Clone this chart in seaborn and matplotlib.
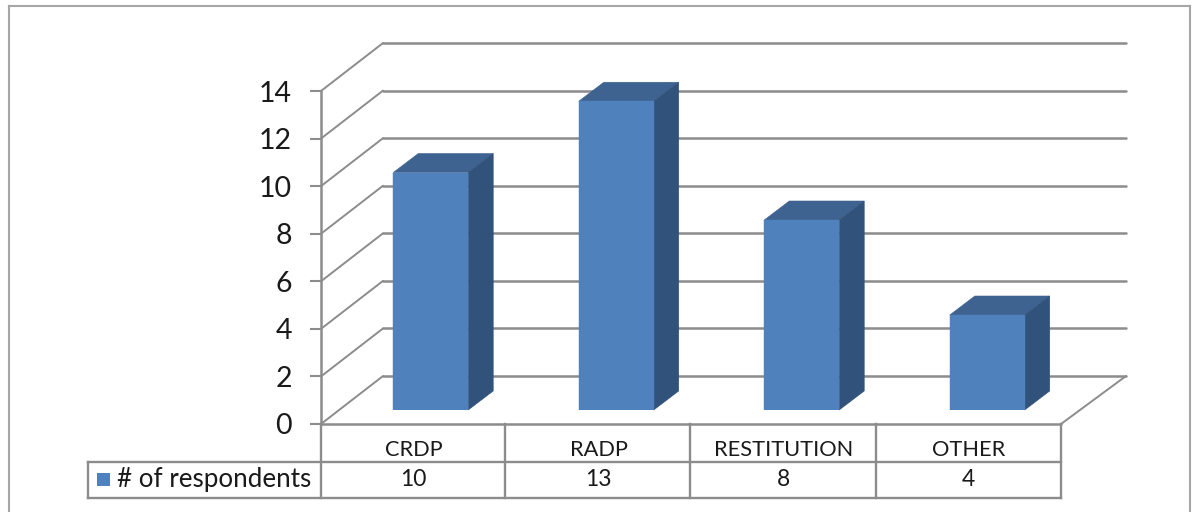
import matplotlib
matplotlib.use("Agg")
import matplotlib.pyplot as plt
import pandas as pd
import seaborn as sns
from matplotlib.lines import Line2D
from matplotlib.patches import Rectangle
from matplotlib.transforms import blended_transform_factory

categories = ["CRDP", "RADP", "RESTITUTION", "OTHER"]
respondents = [10, 13, 8, 4]
y_ticks = [0, 2, 4, 6, 8, 10, 12, 14]
series_name = "# of respondents"

W, H = 1198, 512
FRONT = "#4F81BD"
TOP = "#3E6391"
SIDE = "#31527A"
LINE = "#8C8C8C"
BORDER = "#A6A6A6"
TEXT = "#1A1A1A"

sns.set_theme(style="white")
plt.rcParams["font.family"] = ["Lato", "DejaVu Sans"]

fig = plt.figure(figsize=(W / 100, H / 100), dpi=100, facecolor="white")


def fx(px):
    return px / W


def fy(py):
    return 1 - py / H


def rule(x0, y0, x1, y1, color=LINE, lw=1.7):
    fig.add_artist(Line2D([fx(x0), fx(x1)], [fy(y0), fy(y1)], color=color, lw=lw,
                          solid_capstyle="projecting"))


# Outer chart border, open at the bottom edge
rule(9, 6, 1190, 6, BORDER, 1.5)
rule(9, 6, 9, 512, BORDER, 1.5)
rule(1190, 6, 1190, 512, BORDER, 1.5)

# Front plane of the 3D frame carries the value scale
frame = fig.add_axes([fx(321), fy(424), fx(740), 333 / H])
frame.set_xlim(0, len(categories))
frame.set_ylim(0, 14)
frame.patch.set_alpha(0)
for name, spine in frame.spines.items():
    spine.set_visible(name == "left")
frame.spines["left"].set_color(LINE)
frame.spines["left"].set_linewidth(1.8)
frame.set_xticks([])
frame.set_yticks(y_ticks)
frame.tick_params(axis="y", left=True, length=8, width=1.5, color=LINE, pad=13,
                  labelsize=20.5, labelcolor=TEXT)

# Back wall gridlines and the slanted side-wall lines
wall_dx = 62 / 185
wall_dy = 48 / 23.8
right_end = len(categories) + 65 / 185
for v in y_ticks:
    frame.plot([0, wall_dx], [v, v + wall_dy], color=LINE, lw=1.4, clip_on=False)
    frame.plot([wall_dx, right_end], [v + wall_dy, v + wall_dy], color=LINE, lw=1.8,
               clip_on=False)
frame.plot([0, len(categories)], [0, 0], color=LINE, lw=1.8, clip_on=False)
frame.plot([len(categories), right_end], [0, wall_dy], color=LINE, lw=1.4, clip_on=False)

# Bars stand on the floor, a little behind the front edge
bars_ax = fig.add_axes([fx(338), fy(410), fx(742), 14 * 23.75 / H])
bars_ax.patch.set_alpha(0)
table = pd.DataFrame({"category": categories, "value": respondents})
sns.barplot(data=table, x="category", y="value", order=categories, color=FRONT,
            saturation=1, width=0.404, ax=bars_ax, zorder=3)
bars_ax.set_xlim(-0.5, len(categories) - 0.5)
bars_ax.set_ylim(0, 14)
bars_ax.axis("off")

# Extrude each bar with a top and a side face, thin edges close the seams
depth_x = 25 / 185.5
depth_y = 19 / 23.75
for bar in list(bars_ax.patches):
    bar.set_edgecolor(FRONT)
    bar.set_linewidth(0.3)
    x0 = bar.get_x()
    x1 = x0 + bar.get_width()
    h = bar.get_height()
    bars_ax.fill([x0, x1, x1 + depth_x, x0 + depth_x],
                 [h, h, h + depth_y, h + depth_y], facecolor=TOP, edgecolor=TOP, lw=0.4,
                 zorder=2.9, clip_on=False)
    bars_ax.fill([x1, x1 + depth_x, x1 + depth_x, x1],
                 [0, depth_y, h + depth_y, h], facecolor=SIDE, edgecolor=SIDE, lw=0.4,
                 zorder=2.9, clip_on=False)

# Data table under the plot
rule(321, 424, 321, 498)
rule(88, 462, 1061, 462)
rule(88, 498, 1061, 498)
rule(88, 462, 88, 498)
for i in range(len(categories)):
    x = 1061 - i * 185.5
    rule(x, 424, x, 498)

text_tf = blended_transform_factory(frame.transData, fig.transFigure)
for i, (name, value) in enumerate(zip(categories, respondents)):
    frame.text(i + 0.5, fy(450), name, transform=text_tf, ha="center", va="center",
               fontsize=15.7, color=TEXT)
    frame.text(i + 0.5, fy(480), str(value), transform=text_tf, ha="center", va="center",
               fontsize=16.5, color=TEXT)

fig.add_artist(Rectangle((fx(97), fy(486)), 13 / W, 13 / H, transform=fig.transFigure,
                         facecolor=FRONT, edgecolor="none"))
fig.text(fx(117), fy(480), series_name, ha="left", va="center", fontsize=18.7, color=TEXT)

fig.savefig("out.png", dpi=100)
